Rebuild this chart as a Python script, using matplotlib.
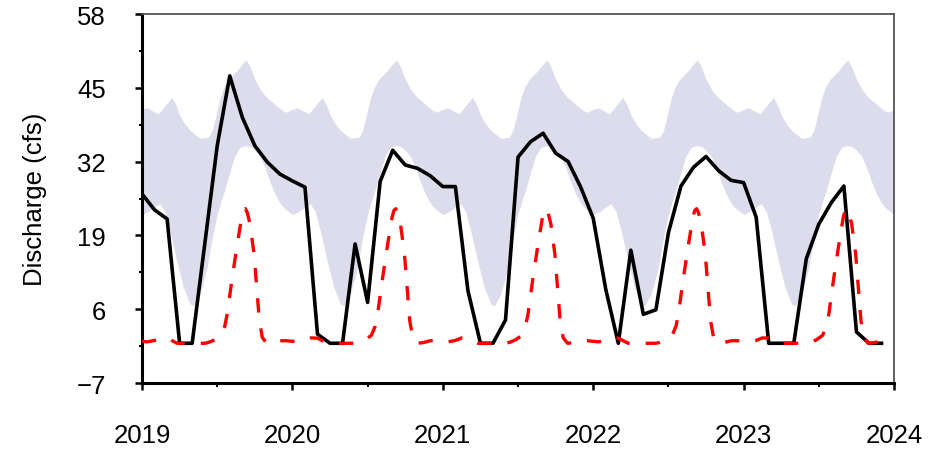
import numpy as np
import matplotlib
matplotlib.use("Agg")
import matplotlib.pyplot as plt
from matplotlib.ticker import FixedLocator

plt.rcParams['font.family'] = ['Liberation Sans', 'DejaVu Sans']

years = [2019, 2020, 2021, 2022, 2023]
year_ticks = [2019, 2020, 2021, 2022, 2023, 2024]
y_ticks = [-7, 6, 19, 32, 45, 58]

# observed monthly discharge, Jan 2019 .. Dec 2023 (cfs)
observed = [26.3, 23.5, 21.9, 0, 0, 17.4, 34.8, 47.1, 39.8, 34.8, 31.9, 29.8,
            28.6, 27.5, 1.6, 0, 0, 17.5, 7.2, 28.5, 34.0, 31.4, 30.8, 29.5,
            27.6, 27.6, 9.3, 0, 0, 4.1, 32.8, 35.5, 37.0, 33.5, 32.0, 27.5,
            22.0, 9.5, 0, 16.4, 5.1, 5.9, 19.5, 27.7, 31.0, 32.9, 30.4, 28.7,
            28.3, 22.2, 0, 0, 0, 14.9, 21.0, 24.8, 27.7, 2.0, 0, 0]

# typical range (same every year): position in months from Jan 1, upper, lower
band_hi_pos = [0, 0.4, 0.8, 1.3, 1.8, 2.37, 2.7, 3.03, 3.4, 3.83, 4.63, 5.3,
               5.6, 5.83, 6.2, 6.5, 6.9, 7.56, 8.0, 8.3, 8.6, 9.0, 9.5, 9.95,
               10.4, 10.75, 11.2, 11.5]
band_hi = [41.2, 41.5, 41.0, 40.4, 41.8, 43.3, 42.0, 40.1, 38.7, 37.5, 36.1, 36.3,
           37.5, 39.5, 43.0, 45.0, 46.5, 48.0, 49.2, 49.9, 48.8, 46.5, 44.5, 43.3,
           42.5, 41.8, 41.0, 40.7]
band_lo_pos = [0, 0.5, 1.0, 1.4, 1.8, 2.23, 2.77, 3.3, 3.83, 4.1, 4.63, 5.2,
               5.56, 6.0, 6.4, 6.6, 7.0, 7.4, 7.82, 8.2, 8.6, 9.0, 9.4, 9.8,
               10.2, 10.6, 11.0, 11.3, 11.7]
band_lo = [22.7, 23.2, 24.0, 24.6, 23.3, 19.8, 14.5, 9.85, 6.9, 6.6, 8.7, 13.4,
           18.1, 22.8, 25.7, 27.0, 30.1, 33.0, 34.5, 34.8, 34.7, 34.0, 33.0, 31.0,
           28.5, 26.3, 24.7, 23.9, 23.2]

# low-flow reference curve (same every year)
ref_pos = [0, 0.4, 1.0, 1.5, 2.0, 2.5, 2.8, 5.0, 5.3, 5.8, 6.3, 6.6, 6.8, 7.16,
           7.56, 7.95, 8.1, 8.25, 8.4, 8.62, 8.94, 9.15, 9.36, 9.6, 9.95, 10.4,
           11.0, 11.5]
ref_val = [0.35, 0.25, 0.5, 0.95, 0.9, 0.35, 0.0, 0.0, 0.15, 0.6, 1.4, 3.0, 5.2, 11.0,
           16.9, 22.2, 23.4, 23.7, 23.0, 21.0, 15.7, 9.85, 4.0, 1.0, 0.0, 0.1,
           0.45, 0.45]


def repeat_years(pos, val, end):
    xs, vs = [], []
    for y in years:
        for p, v in zip(pos, val):
            x = y + p / 12.0
            if x <= end + 1e-9:
                xs.append(x)
                vs.append(v)
    return np.array(xs), np.array(vs)


hx, hv = repeat_years(band_hi_pos, band_hi, 2024)
hx, hv = np.append(hx, 2024), np.append(hv, band_hi[0])
lx, lv = repeat_years(band_lo_pos, band_lo, 2024)
lx, lv = np.append(lx, 2024), np.append(lv, band_lo[0])
grid_x = np.union1d(hx, lx)
upper = np.interp(grid_x, hx, hv)
lower = np.interp(grid_x, lx, lv)

rx, rv = repeat_years(ref_pos, ref_val, 2023 + 11 / 12.0)
ox = np.array(years[0] + np.arange(len(observed)) / 12.0)

fig = plt.figure(figsize=(9.5, 4.52), dpi=100)
ax = fig.add_axes([0.1495, 0.1504, 0.7916, 0.8164])

ax.fill_between(grid_x, lower, upper, color='#dcdcec', lw=0, zorder=1)
ax.plot(ox, observed, color='black', lw=2.6, zorder=3)
ax.plot(rx, rv, color='#ff0000', lw=2.4, linestyle=(0, (4.3, 4.8)), zorder=4)

ax.set_xlim(2019, 2024)
ax.set_ylim(-7, 58)
ax.xaxis.set_major_locator(FixedLocator(year_ticks))
ax.xaxis.set_minor_locator(FixedLocator([y + 0.5 for y in years]))
ax.set_xticklabels([str(y) for y in year_ticks])
ax.yaxis.set_major_locator(FixedLocator(y_ticks))
ax.yaxis.set_minor_locator(FixedLocator([v + 6.5 for v in y_ticks[:-1]]))

ax.tick_params(axis='both', which='major', labelsize=18.5, direction='out',
               length=5, width=1.8, color='black')
ax.tick_params(axis='both', which='minor', direction='out', length=3, width=1.5)
ax.tick_params(axis='y', which='minor', length=2)
ax.tick_params(axis='y', which='major', pad=21)
ax.tick_params(axis='x', which='major', pad=24)

for s in ['left', 'bottom']:
    ax.spines[s].set_linewidth(2.2)
    ax.spines[s].set_color('black')
for s in ['top', 'right']:
    ax.spines[s].set_linewidth(1.3)
    ax.spines[s].set_color('#555555')

ax.set_ylabel('Discharge (cfs)', fontsize=18.5)
ax.yaxis.set_label_coords(-0.127, 0.5)

fig.savefig('out.png', dpi=100)
